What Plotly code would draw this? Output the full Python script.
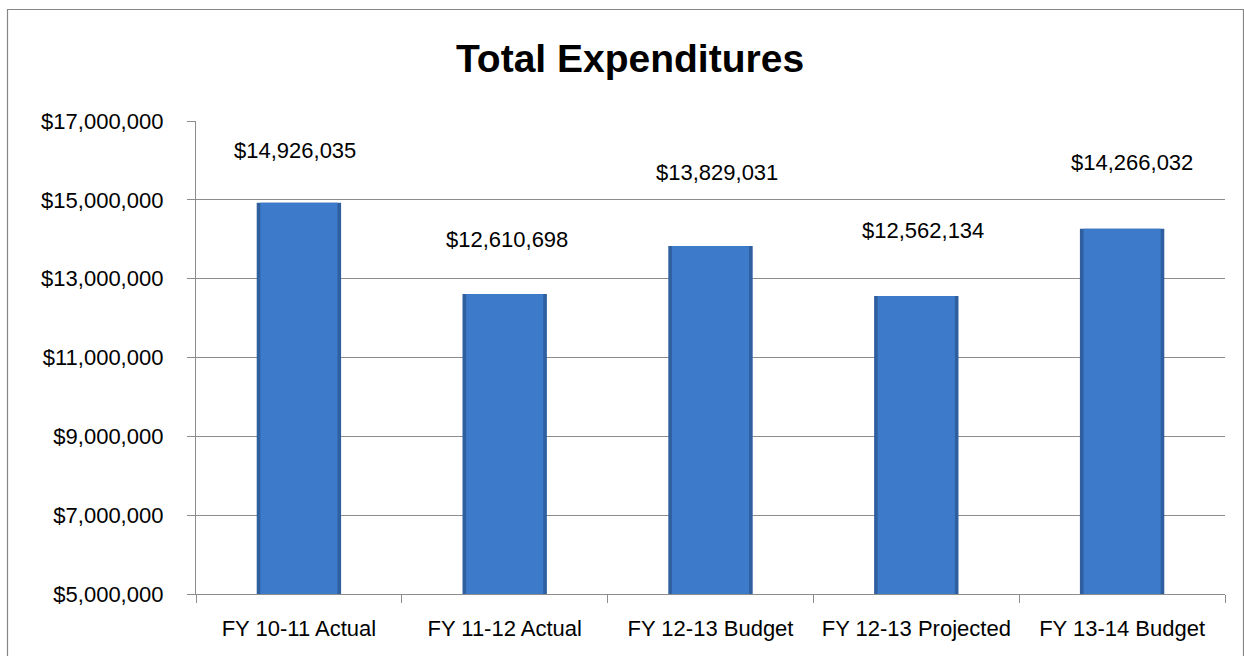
import plotly.graph_objects as go

categories = ["FY 10-11 Actual", "FY 11-12 Actual", "FY 12-13 Budget", "FY 12-13 Projected", "FY 13-14 Budget"]
values = [14926035, 12610698, 13829031, 12562134, 14266032]
tick_values = [5000000, 7000000, 9000000, 11000000, 13000000, 15000000, 17000000]
tick_labels = ["$5,000,000", "$7,000,000", "$9,000,000", "$11,000,000", "$13,000,000", "$15,000,000", "$17,000,000"]
title_text = "Total Expenditures"

# label pixel offsets (style only)
label_dy = [52, 55, 73, 65, 66]
label_dx = [-4, 2, 6, 7, 10]

FONT = "Liberation Sans"
W, H = 1244, 656
ML, MR, MT, MB = 196, 19, 121, 62
pw, ph = W - ML - MR, H - MT - MB

fig = go.Figure()
# darker base bar (edge)
fig.add_trace(go.Bar(x=categories, y=values, width=0.41,
                     marker=dict(color="#2f5f9f", line=dict(width=0)),
                     hoverinfo="skip", showlegend=False))
# main face bar
fig.add_trace(go.Bar(x=categories, y=values, width=0.375,
                     marker=dict(color="#3d7ac9", line=dict(width=0)),
                     showlegend=False))

for c, v, dy, dx in zip(categories, values, label_dy, label_dx):
    fig.add_annotation(x=c, y=v, text=f"${v:,.0f}", showarrow=False,
                       yanchor="middle", xanchor="center", yshift=dy, xshift=dx,
                       font=dict(family=FONT, size=22, color="#000000"))

def px_to_paper_x(p):
    return (p - ML) / pw

def px_to_paper_y(p):
    return (H - MB - p) / ph

fig.add_shape(type="rect", xref="paper", yref="paper",
              x0=px_to_paper_x(7.5), x1=px_to_paper_x(1243.5),
              y0=px_to_paper_y(700), y1=px_to_paper_y(9.5),
              line=dict(color="#868686", width=1.2), fillcolor="rgba(0,0,0,0)", layer="below")

fig.update_layout(
    width=W, height=H,
    margin=dict(l=ML, r=MR, t=MT, b=MB, pad=0),
    barmode="overlay",
    plot_bgcolor="#ffffff", paper_bgcolor="#ffffff",
    title=dict(text=f"<b>{title_text}</b>", x=630 / W, xanchor="center",
               y=1 - 58 / H, yanchor="middle",
               font=dict(family=FONT, size=39, color="#000000")),
    font=dict(family=FONT, size=22, color="#000000"),
)

fig.update_yaxes(range=[5000000, 17000000], tickvals=tick_values, ticktext=tick_labels,
                 showgrid=True, gridcolor="#8c8c8c", gridwidth=1.3,
                 showline=True, linecolor="#8c8c8c", linewidth=1.3,
                 ticks="outside", ticklen=8, tickcolor="#8c8c8c", tickwidth=1.3,
                 ticklabelstandoff=19, zeroline=False,
                 tickfont=dict(family=FONT, size=22, color="#000000"))
fig.update_xaxes(showline=True, linecolor="#8c8c8c", linewidth=1.3,
                 ticks="outside", ticklen=8, tickcolor="#8c8c8c", tickwidth=1.3,
                 tickson="boundaries", showgrid=False, ticklabelstandoff=14,
                 tickfont=dict(family=FONT, size=22, color="#000000"))

fig.write_html("out.html", config={"displayModeBar": False},
               post_script="document.body.style.margin='0';document.body.style.overflow='hidden';")
